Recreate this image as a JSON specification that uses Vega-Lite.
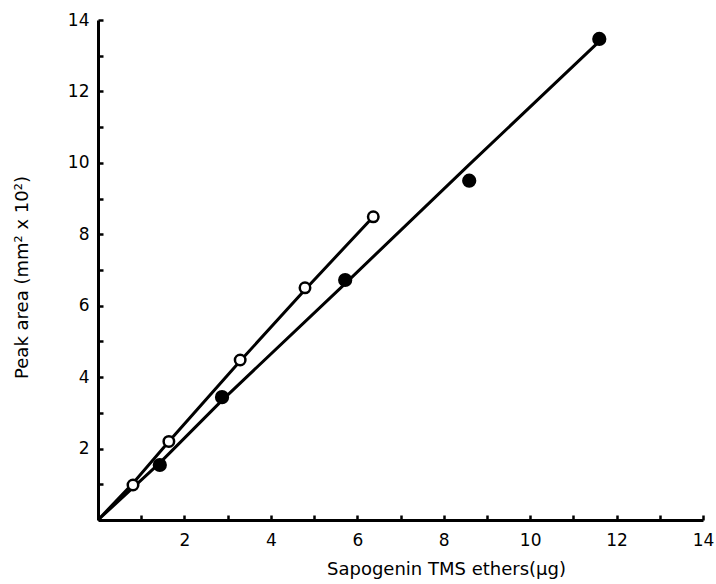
{
  "$schema": "https://vega.github.io/schema/vega-lite/v6.json",
  "autosize": {"type": "none"},
  "width": 605,
  "height": 500,
  "padding": {"left": 98, "top": 20, "right": 13, "bottom": 64},
  "background": "white",
  "config": {
    "view": {"stroke": null},
    "font": "DejaVu Sans",
    "axis": {"grid": false, "domainColor": "black", "domainWidth": 3, "tickColor": "black", "tickWidth": 2.5, "labelColor": "black", "titleColor": "black", "labelFont": "DejaVu Sans", "titleFont": "DejaVu Sans", "labelFontSize": 17, "titleFontSize": 18, "titleFontWeight": "normal", "labelOverlap": false, "labelBound": false, "labelFlush": false}
  },
  "datasets": {
    "pts": [
      {"series": "open", "x": 0.81, "y": 0.98},
      {"series": "open", "x": 1.64, "y": 2.2},
      {"series": "open", "x": 3.29, "y": 4.48},
      {"series": "open", "x": 4.79, "y": 6.5},
      {"series": "open", "x": 6.37, "y": 8.49},
      {"series": "filled", "x": 1.43, "y": 1.54},
      {"series": "filled", "x": 2.87, "y": 3.44},
      {"series": "filled", "x": 5.72, "y": 6.72},
      {"series": "filled", "x": 8.59, "y": 9.5},
      {"series": "filled", "x": 11.6, "y": 13.47}
    ],
    "fit": [
      {"series": "open", "x": 0, "y": 0},
      {"series": "open", "x": 0.81, "y": 1.03},
      {"series": "open", "x": 1.64, "y": 2.2},
      {"series": "open", "x": 3.29, "y": 4.45},
      {"series": "open", "x": 4.79, "y": 6.45},
      {"series": "open", "x": 6.37, "y": 8.49},
      {"series": "filled", "x": 0, "y": 0},
      {"series": "filled", "x": 1.43, "y": 1.6},
      {"series": "filled", "x": 2.87, "y": 3.35},
      {"series": "filled", "x": 5.72, "y": 6.62},
      {"series": "filled", "x": 8.59, "y": 9.95},
      {"series": "filled", "x": 11.6, "y": 13.4}
    ]
  },
  "encoding": {
    "x": {"field": "x", "type": "quantitative", "scale": {"domain": [0, 14], "nice": false},
      "axis": {"title": "Sapogenin TMS ethers(μg)", "values": [1,2,3,4,5,6,7,8,9,10,11,12,13,14], "tickSize": -5, "labelExpr": "datum.value % 2 == 0 ? datum.label : ''", "labelPadding": 17, "titlePadding": 12, "titleX": 348, "titleAlign": "center"}},
    "y": {"field": "y", "type": "quantitative", "scale": {"domain": [0, 14], "nice": false},
      "axis": {"title": "Peak area (mm² x 10²)", "values": [1,2,3,4,5,6,7,8,9,10,11,12,13,14], "tickSize": -5, "labelExpr": "datum.value % 2 == 0 ? datum.label : ''", "labelOverlap": false, "labelPadding": 14, "titlePadding": 36, "titleY": 257, "titleAlign": "center"}}
  },
  "layer": [
    {
      "data": {"name": "fit"},
      "mark": {"type": "line", "color": "black", "strokeWidth": 3},
      "encoding": {"detail": {"field": "series"}}
    },
    {
      "data": {"name": "pts"},
      "transform": [{"filter": "datum.series == 'open'"}],
      "mark": {"type": "point", "shape": "circle", "filled": true, "fill": "white", "stroke": "black", "strokeWidth": 2.5, "size": 110, "opacity": 1}
    },
    {
      "data": {"name": "pts"},
      "transform": [{"filter": "datum.series == 'filled'"}],
      "mark": {"type": "point", "shape": "circle", "filled": true, "fill": "black", "stroke": "black", "size": 150, "opacity": 1}
    }
  ]
}
